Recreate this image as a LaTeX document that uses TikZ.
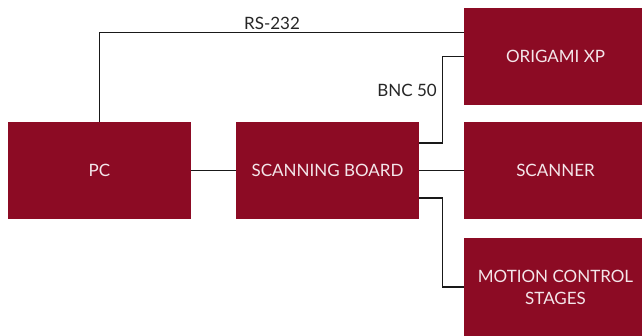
\documentclass[tikz,border=0pt]{standalone}
\usepackage{fontspec}
\setmainfont{Lato}
\usetikzlibrary{calc}
\definecolor{boxred}{HTML}{8C0B24}
\definecolor{boxtext}{HTML}{F4E6EA}
\tikzset{
  blockbox/.style={fill=boxred, draw=none, minimum width=183pt, minimum height=97pt,
    inner sep=0pt, text=boxtext, font=\fontsize{17}{20}\selectfont, align=center},
  wire/.style={draw=black!90, line width=1.25pt},
  lbl/.style={font=\fontsize{17}{20}\selectfont, text=black!85, inner sep=0pt}
}
\begin{document}
\begin{tikzpicture}[x=1pt,y=-1pt]
\clip (0,0) rectangle (642,336);
\fill[white] (0,0) rectangle (642,336);
\node[blockbox] (pc) at (99.5,170.5) {PC};
\node[blockbox] (board) at (327.5,170.5) {SCANNING BOARD};
\node[blockbox] (origami) at (555.5,56.5) {ORIGAMI XP};
\node[blockbox] (scanner) at (555.5,170.5) {SCANNER};
\node[blockbox, font=\fontsize{17}{22}\selectfont] (motion) at (555.5,287) {MOTION CONTROL\\STAGES};
\coordinate (rsend) at ($(origami.north west)+(0pt,-24.5pt)$);
\coordinate (bncturn) at ($(board.east)+(23pt,27.5pt)$);
\coordinate (motturn) at ($(board.east)+(23pt,-27.5pt)$);
\draw[wire] (pc.north) |- (rsend);
\draw[wire] ([yshift=27.5pt]board.east) -- (bncturn) |- (origami.west);
\draw[wire] (pc.east) -- (board.west);
\draw[wire] (board.east) -- (scanner.west);
\draw[wire] ([yshift=-27.5pt]board.east) -- (motturn) |- (motion.west);
\node[lbl, anchor=south] (rs) at (272,29.5) {RS-232};
\node[lbl, anchor=east] (bnc) at (437,90) {BNC 50};
\end{tikzpicture}
\end{document}
